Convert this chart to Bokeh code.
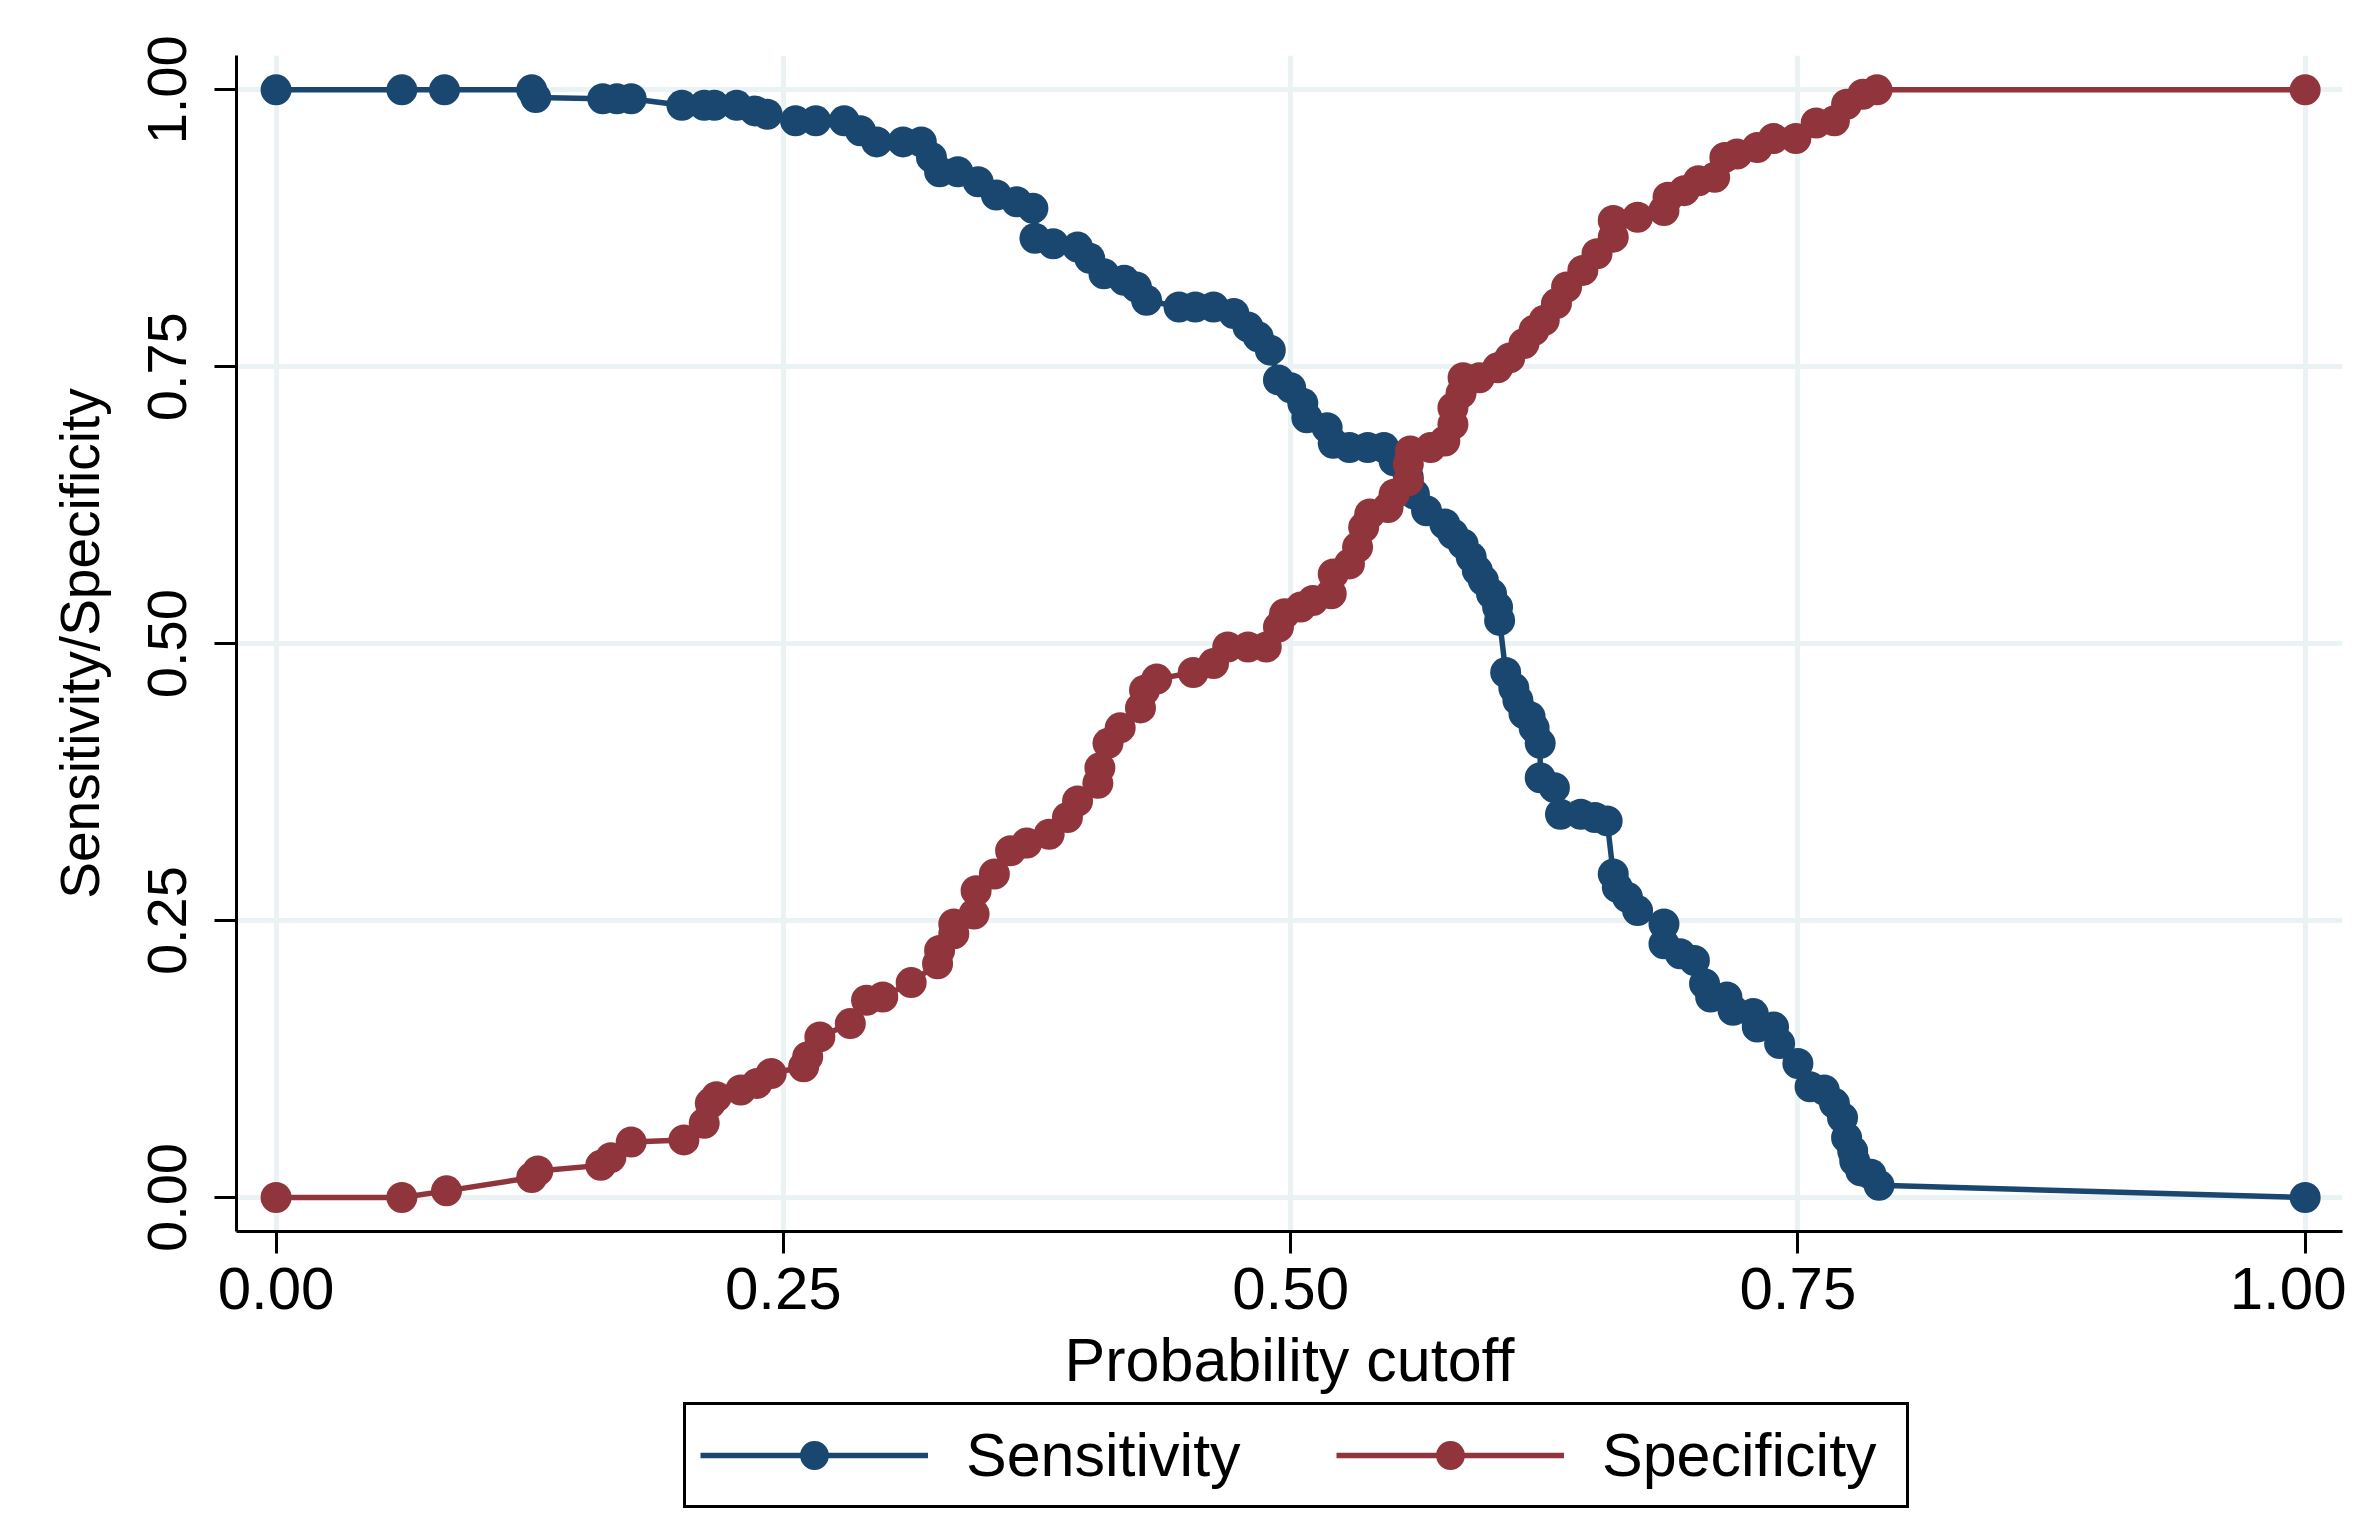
from bokeh.plotting import figure
from bokeh.models import Range1d, FixedTicker, Legend, LegendItem
from bokeh.layouts import column
from bokeh.embed import file_html
from bokeh.resources import INLINE

# ---- data ----
sens_cut = [0.000, 0.062, 0.083, 0.126, 0.128, 0.161, 0.168, 0.175, 0.200, 0.211,
            0.216, 0.227, 0.236, 0.242, 0.256, 0.266, 0.280, 0.288, 0.296, 0.309,
            0.318, 0.323, 0.327, 0.336, 0.346, 0.355, 0.365, 0.373, 0.374, 0.383,
            0.395, 0.401, 0.408, 0.418, 0.424, 0.429, 0.445, 0.453, 0.462, 0.472,
            0.479, 0.484, 0.490, 0.494, 0.500, 0.506, 0.508, 0.518, 0.521, 0.529,
            0.538, 0.546, 0.551, 0.558, 0.561, 0.567, 0.576, 0.580, 0.585, 0.589,
            0.592, 0.595, 0.599, 0.602, 0.603, 0.606, 0.610, 0.612, 0.615, 0.618,
            0.620, 0.623, 0.623, 0.630, 0.633, 0.643, 0.650, 0.656, 0.659, 0.661,
            0.666, 0.671, 0.684, 0.684, 0.692, 0.699, 0.704, 0.707, 0.715, 0.718,
            0.728, 0.730, 0.738, 0.741, 0.750, 0.756, 0.763, 0.768, 0.772, 0.774,
            0.777, 0.778, 0.781, 0.786, 0.790, 1.000]
sensitivity = [1.000, 1.000, 1.000, 1.000, 0.993, 0.992, 0.992, 0.992, 0.986, 0.986,
               0.986, 0.986, 0.981, 0.978, 0.972, 0.972, 0.972, 0.963, 0.953, 0.953,
               0.953, 0.939, 0.926, 0.926, 0.917, 0.905, 0.899, 0.893, 0.866, 0.861,
               0.858, 0.848, 0.834, 0.828, 0.822, 0.810, 0.804, 0.804, 0.804, 0.798,
               0.786, 0.777, 0.765, 0.738, 0.731, 0.717, 0.704, 0.695, 0.681, 0.677,
               0.677, 0.677, 0.665, 0.650, 0.635, 0.620, 0.608, 0.599, 0.590, 0.578,
               0.566, 0.557, 0.545, 0.533, 0.521, 0.474, 0.460, 0.449, 0.437, 0.434,
               0.424, 0.410, 0.379, 0.370, 0.346, 0.346, 0.343, 0.340, 0.292, 0.280,
               0.271, 0.259, 0.247, 0.229, 0.220, 0.214, 0.193, 0.181, 0.181, 0.169,
               0.166, 0.154, 0.154, 0.139, 0.121, 0.100, 0.097, 0.085, 0.072, 0.054,
               0.042, 0.033, 0.024, 0.021, 0.011, 0.000]

spec_cut = [0.000, 0.062, 0.084, 0.126, 0.129, 0.160, 0.165, 0.175, 0.201, 0.211,
            0.214, 0.217, 0.229, 0.237, 0.244, 0.260, 0.262, 0.268, 0.283, 0.291,
            0.299, 0.313, 0.326, 0.327, 0.334, 0.334, 0.344, 0.345, 0.354, 0.362,
            0.370, 0.381, 0.390, 0.395, 0.405, 0.406, 0.410, 0.416, 0.426, 0.428,
            0.434, 0.452, 0.462, 0.469, 0.479, 0.488, 0.494, 0.497, 0.505, 0.511,
            0.520, 0.521, 0.529, 0.533, 0.536, 0.539, 0.548, 0.551, 0.558, 0.558,
            0.559, 0.569, 0.576, 0.580, 0.580, 0.584, 0.585, 0.593, 0.602, 0.608,
            0.615, 0.620, 0.625, 0.631, 0.636, 0.644, 0.651, 0.659, 0.659, 0.671,
            0.684, 0.686, 0.694, 0.701, 0.709, 0.714, 0.720, 0.730, 0.738, 0.749,
            0.759, 0.768, 0.774, 0.782, 0.789, 1.000]
specificity = [0.000, 0.000, 0.006, 0.018, 0.024, 0.029, 0.036, 0.050, 0.052, 0.067,
               0.085, 0.091, 0.097, 0.103, 0.112, 0.118, 0.127, 0.145, 0.157, 0.178,
               0.181, 0.194, 0.211, 0.223, 0.238, 0.247, 0.256, 0.277, 0.292, 0.313,
               0.320, 0.328, 0.343, 0.358, 0.374, 0.388, 0.410, 0.424, 0.442, 0.458,
               0.468, 0.474, 0.482, 0.497, 0.497, 0.497, 0.515, 0.527, 0.533, 0.539,
               0.545, 0.563, 0.572, 0.587, 0.605, 0.617, 0.623, 0.635, 0.647, 0.662,
               0.674, 0.677, 0.683, 0.698, 0.713, 0.726, 0.740, 0.740, 0.749, 0.758,
               0.771, 0.783, 0.792, 0.807, 0.822, 0.837, 0.852, 0.867, 0.882, 0.885,
               0.891, 0.903, 0.909, 0.918, 0.921, 0.939, 0.942, 0.948, 0.956, 0.956,
               0.970, 0.972, 0.987, 0.996, 1.000, 1.000]

tick_values = [0.0, 0.25, 0.5, 0.75, 1.0]
tick_labels = ["0.00", "0.25", "0.50", "0.75", "1.00"]
series_names = ["Sensitivity", "Specificity"]

NAVY = "#1a476f"
MAROON = "#90353b"
GRID = "#eaf2f3"
FONT = "Liberation Sans"

p = figure(width=2346, height=1398, output_backend="svg", toolbar_location=None,
           x_range=Range1d(-0.0195, 1.0184), y_range=Range1d(-0.0307, 1.031),
           min_border_left=236, min_border_right=4, min_border_top=55,
           min_border_bottom=167)
p.outline_line_color = None
p.background_fill_color = "white"
p.border_fill_color = "white"

for ax, lab in ((p.xaxis[0], "Probability cutoff"), (p.yaxis[0], "Sensitivity/Specificity")):
    ax.ticker = FixedTicker(ticks=tick_values)
    ax.major_label_overrides = {v: t for v, t in zip(tick_values, tick_labels)}
    ax.axis_label = lab
    ax.axis_label_text_font = FONT
    ax.axis_label_text_font_style = "normal"
    ax.axis_label_text_color = "black"
    ax.major_label_text_font = FONT
    ax.major_label_text_color = "black"
    ax.axis_line_color = "black"
    ax.axis_line_width = 3
    ax.major_tick_line_color = "black"
    ax.major_tick_line_width = 3
    ax.major_tick_out = 22
    ax.major_tick_in = 0
    ax.minor_tick_line_color = None

p.xaxis[0].major_label_text_font_size = "60px"
p.xaxis[0].axis_label_text_font_size = "61px"
p.yaxis[0].major_label_text_font_size = "56px"
p.yaxis[0].axis_label_text_font_size = "55px"
p.yaxis[0].major_label_orientation = "vertical"
p.xaxis[0].major_label_standoff = 14
p.yaxis[0].major_label_standoff = 28
p.xaxis[0].axis_label_standoff = 14
p.yaxis[0].axis_label_standoff = 35

for g in (p.xgrid[0], p.ygrid[0]):
    g.ticker = FixedTicker(ticks=tick_values)
    g.grid_line_color = GRID
    g.grid_line_width = 5

line_style = dict(line_width=5.5)
p.line(sens_cut, sensitivity, line_color=NAVY, **line_style)
p.scatter(sens_cut, sensitivity, size=31, fill_color=NAVY, line_color=NAVY, line_width=0)
p.line(spec_cut, specificity, line_color=MAROON, **line_style)
p.scatter(spec_cut, specificity, size=31, fill_color=MAROON, line_color=MAROON, line_width=0)

# ---- legend strip below the plot (its view range lies away from the data,
#      so its renderers only supply the legend glyph styles) ----
leg = figure(width=2346, height=110, output_backend="svg", toolbar_location=None,
             x_axis_location=None, y_axis_location=None,
             x_range=Range1d(10, 11), y_range=Range1d(10, 11),
             min_border_left=236, min_border_right=4, min_border_top=0,
             min_border_bottom=0)
leg.outline_line_color = None
leg.grid.visible = False
leg.background_fill_color = "white"
leg.border_fill_color = "white"

k1 = leg.line(sens_cut, sensitivity, line_color=NAVY, **line_style)
m1 = leg.scatter(sens_cut, sensitivity, fill_color=NAVY, line_color=NAVY, line_width=0)
k2 = leg.line(spec_cut, specificity, line_color=MAROON, **line_style)
m2 = leg.scatter(spec_cut, specificity, fill_color=MAROON, line_color=MAROON, line_width=0)

legend = Legend(items=[LegendItem(label=series_names[0], renderers=[k1, m1]),
                       LegendItem(label=series_names[1], renderers=[k2, m2])],
                orientation="horizontal", location=(447, 0),
                glyph_width=228, glyph_height=72, label_standoff=38,
                label_width=290, spacing=80, padding=14, margin=0,
                label_text_font=FONT, label_text_font_size="61px",
                label_text_color="black", label_text_baseline="middle",
                border_line_color="black", border_line_width=3, border_line_alpha=1.0,
                background_fill_color="white", background_fill_alpha=1.0)
leg.add_layout(legend, "center")

layout = column(p, leg, spacing=0)
open("out.html", "w").write(file_html(layout, INLINE))
